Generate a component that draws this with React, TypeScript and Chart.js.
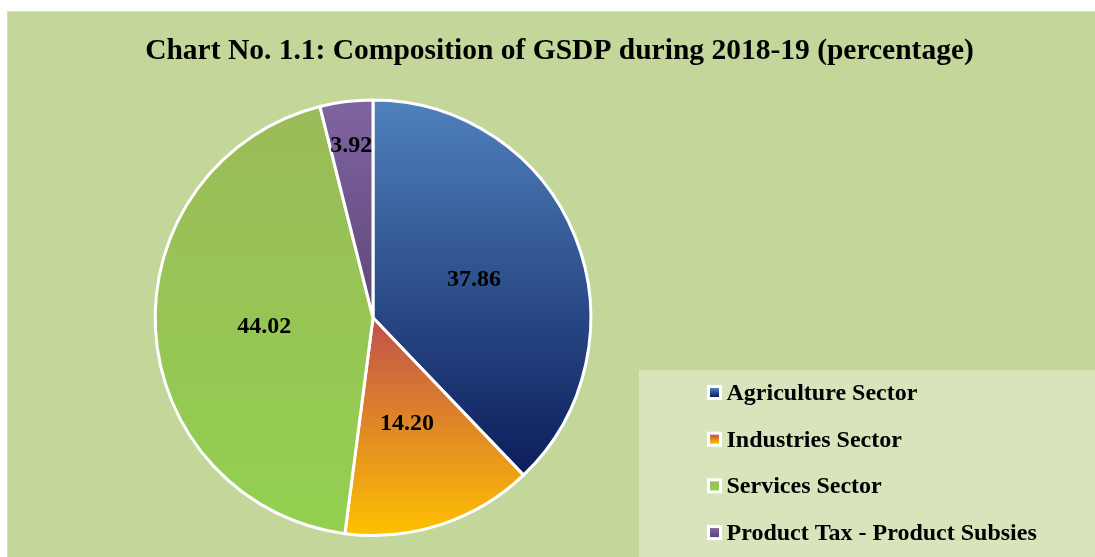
import React, { useEffect, useRef } from "react";
import { Chart, registerables, layouts } from "chart.js";

Chart.register(...registerables);

const TITLE = "Chart No. 1.1: Composition of GSDP during 2018-19 (percentage)";
const categories = [
  "Agriculture Sector",
  "Industries Sector",
  "Services Sector",
  "Product Tax - Product Subsies",
];
const shares = [37.86, 14.2, 44.02, 3.92];
const topColors = ["#4f81bd", "#c0504d", "#9bbb59", "#8064a2"];
const bottomColors = ["#0b1d5a", "#ffc000", "#92d050", "#5d4778"];

const FONT = '"Liberation Serif", "Times New Roman", serif';
const PANEL_BG = "#c4d79b";
const LEGEND_BG = "#d8e4bc";

function sliceGradient(c: any) {
  const chart = c.chart;
  const i = c.dataIndex;
  const area = chart.chartArea;
  if (!area || i === undefined) return topColors[i ?? 0];
  const ctrl: any = chart.getDatasetMeta(0).controller;
  const r = ctrl && ctrl.outerRadius ? ctrl.outerRadius : Math.min(area.width, area.height) / 2;
  const cy = (area.top + area.bottom) / 2 + (ctrl?.offsetY || 0);
  const total = shares.reduce((a, b) => a + b, 0);
  const before = shares.slice(0, i).reduce((a, b) => a + b, 0);
  const start = (before / total) * Math.PI * 2 - Math.PI / 2;
  const end = start + (shares[i] / total) * Math.PI * 2;
  const ys = [cy, cy + r * Math.sin(start), cy + r * Math.sin(end)];
  const within = (a: number) => {
    for (let k = -1; k <= 1; k++) {
      const aa = a + k * Math.PI * 2;
      if (aa >= start && aa <= end) return true;
    }
    return false;
  };
  if (within(Math.PI / 2)) ys.push(cy + r);
  if (within(-Math.PI / 2)) ys.push(cy - r);
  const y0 = Math.min(...ys);
  const y1 = Math.max(...ys);
  const g = chart.ctx.createLinearGradient(0, y0, 0, y1);
  g.addColorStop(0, topColors[i]);
  g.addColorStop(1, bottomColors[i]);
  return g;
}

const panelBackground = {
  id: "panelBackground",
  beforeDraw(chart: any) {
    const ctx = chart.ctx;
    ctx.save();
    ctx.fillStyle = PANEL_BG;
    ctx.fillRect(0, 0, chart.width, chart.height);
    ctx.restore();
  },
};

// Reserves room on the right of the plot (where the legend panel sits)
// without narrowing the full-width title.
const rightSpace = {
  id: "rightSpace",
  beforeInit(chart: any) {
    const box: any = {
      position: "right",
      weight: 0,
      fullSize: false,
      options: {},
      left: 0,
      top: 0,
      right: 0,
      bottom: 0,
      width: 0,
      height: 0,
      isHorizontal() {
        return false;
      },
      update(_maxWidth: number, maxHeight: number) {
        this.width = 373;
        this.height = maxHeight;
      },
      draw() {},
    };
    layouts.addBox(chart, box);
  },
};

const sliceLabels = {
  id: "sliceLabels",
  afterDatasetsDraw(chart: any) {
    const meta = chart.getDatasetMeta(0);
    const ctx = chart.ctx;
    ctx.save();
    ctx.font = `bold 24px ${FONT}`;
    ctx.fillStyle = "#000";
    ctx.textAlign = "center";
    ctx.textBaseline = "middle";
    meta.data.forEach((arc: any, i: number) => {
      const p = arc.getProps(["x", "y", "startAngle", "endAngle", "outerRadius", "circumference"], true);
      const mid = (p.startAngle + p.endAngle) / 2;
      const frac = p.circumference < 0.4 ? 0.81 : 0.5;
      ctx.fillText(
        shares[i].toFixed(2),
        p.x + Math.cos(mid) * p.outerRadius * frac,
        p.y + Math.sin(mid) * p.outerRadius * frac + 3
      );
    });
    ctx.restore();
  },
};

const boxLegend = {
  id: "boxLegend",
  afterDraw(chart: any) {
    const ctx = chart.ctx;
    const x0 = 631;
    const y0 = 358;
    ctx.save();
    ctx.fillStyle = LEGEND_BG;
    ctx.fillRect(x0, y0, chart.width - x0, chart.height - y0);
    ctx.font = `bold 24px ${FONT}`;
    ctx.textAlign = "left";
    ctx.textBaseline = "alphabetic";
    categories.forEach((name, i) => {
      const base = 388 + i * 46.7;
      const mx = 699;
      const my = base - 15;
      ctx.fillStyle = "#ffffff";
      ctx.fillRect(mx, my, 15, 15);
      const g = ctx.createLinearGradient(0, my + 3, 0, my + 12);
      g.addColorStop(0, topColors[i]);
      g.addColorStop(1, bottomColors[i]);
      ctx.fillStyle = g;
      ctx.fillRect(mx + 3, my + 3, 9, 9);
      ctx.fillStyle = "#000";
      ctx.fillText(name, 718.5, base);
    });
    ctx.restore();
  },
};

export default function App() {
  const ref = useRef<HTMLCanvasElement | null>(null);

  useEffect(() => {
    if (!ref.current) return;
    const chart = new Chart(ref.current, {
      type: "pie",
      data: {
        labels: categories,
        datasets: [
          {
            data: shares,
            backgroundColor: sliceGradient as any,
            borderColor: "#ffffff",
            borderWidth: 3,
            hoverOffset: 0,
          },
        ],
      },
      options: {
        responsive: false,
        animation: false,
        events: [],
        layout: { padding: { left: 0, right: 0, top: 0, bottom: 20 } },
        plugins: {
          legend: { display: false },
          tooltip: { enabled: false },
          title: {
            display: true,
            text: TITLE,
            color: "#000",
            font: { family: FONT, size: 29.5, weight: "bold" },
            padding: { top: 22, bottom: 29 },
          },
        },
      },
      plugins: [rightSpace, panelBackground, sliceLabels, boxLegend],
    });
    return () => chart.destroy();
  }, []);

  return (
    <div
      style={{
        position: "fixed",
        left: 0,
        top: 0,
        width: 1095,
        height: 557,
        overflow: "hidden",
        background: "#ffffff",
      }}
    >
      <div
        style={{
          position: "absolute",
          left: 7,
          top: 11,
          width: 1103,
          height: 545,
          borderLeft: "1px solid #d9d9d9",
          borderTop: "1px solid #d9d9d9",
          background: PANEL_BG,
        }}
      >
        <canvas ref={ref} width={1103} height={545} style={{ display: "block", width: 1103, height: 545 }} />
      </div>
    </div>
  );
}
